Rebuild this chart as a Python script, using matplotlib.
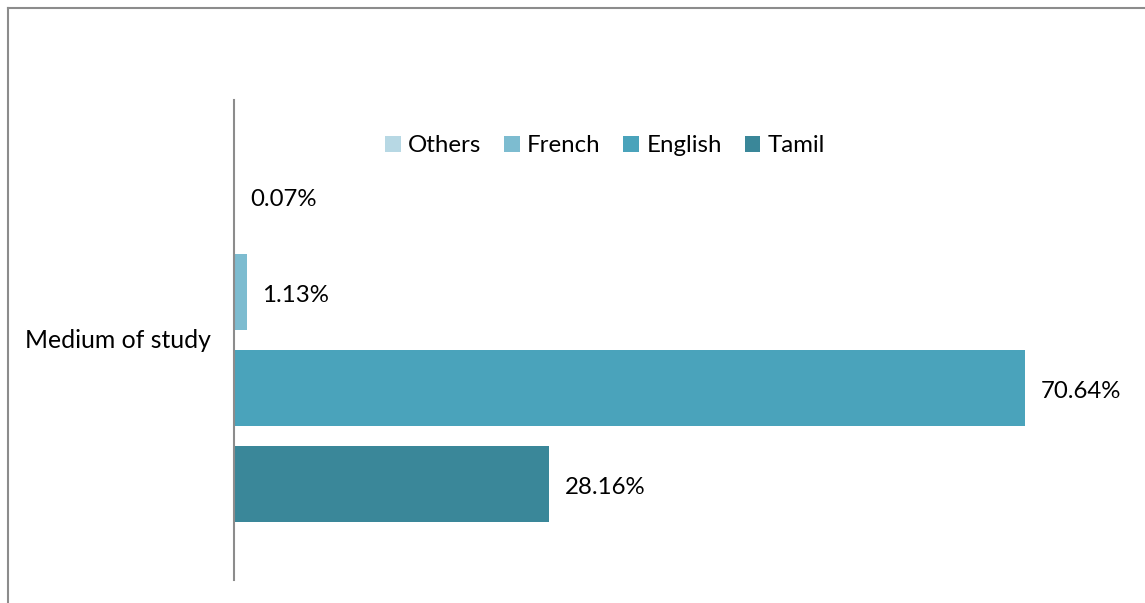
import matplotlib.pyplot as plt
from matplotlib.lines import Line2D

# Medium of study shares (%)
categories = ["Tamil", "English", "French", "Others"]
values = [28.16, 70.64, 1.13, 0.07]
colors = ["#3A8799", "#4AA3BB", "#7DBCD0", "#B7D8E4"]
group_label = "Medium of study"

plt.rcParams['font.family'] = ['Lato', 'DejaVu Sans']
FS = 17.3

W, H = 1145, 603
fig = plt.figure(figsize=(W / 100, H / 100), dpi=100)
ax = fig.add_axes([234 / W, 23 / H, (1130 - 234) / W, 480 / H])

ypos = list(range(len(categories)))
bars = []
for y, v, c, name in zip(ypos, values, colors, categories):
    b = ax.barh(y, v, height=0.79, color=c, label=name)
    bars.append(b)
    ax.text(v + 1.4, y - 0.04, f"{v:.2f}%", va='center', ha='left', fontsize=FS, color='black')

ax.set_xlim(0, 80)
ax.set_ylim(-1, 4)
ax.set_xticks([])
ax.set_yticks([])
for side in ['top', 'right', 'bottom']:
    ax.spines[side].set_visible(False)
ax.spines['left'].set_color('#8c8c8c')
ax.spines['left'].set_linewidth(1.5)

fig.text(25 / W, 1 - 341 / H, group_label, ha='left', va='center', fontsize=FS + 0.5)

# legend in reverse order: Others, French, English, Tamil
handles = bars[::-1]
labels = categories[::-1]
fig.legend(handles, labels, loc='center', bbox_to_anchor=(605 / W, 1 - 146 / H),
           ncol=4, frameon=False, fontsize=FS, handlelength=0.65, handleheight=0.65,
           handletextpad=0.3, columnspacing=0.95)

# figure border (top and left only)
fig.add_artist(Line2D([7.5 / W, 7.5 / W], [0, 1 - 7.5 / H], transform=fig.transFigure,
                      color='#8c8c8c', linewidth=1.5))
fig.add_artist(Line2D([7.5 / W, 1], [1 - 7.5 / H, 1 - 7.5 / H], transform=fig.transFigure,
                      color='#8c8c8c', linewidth=1.5))

fig.savefig("out.png", dpi=100)
